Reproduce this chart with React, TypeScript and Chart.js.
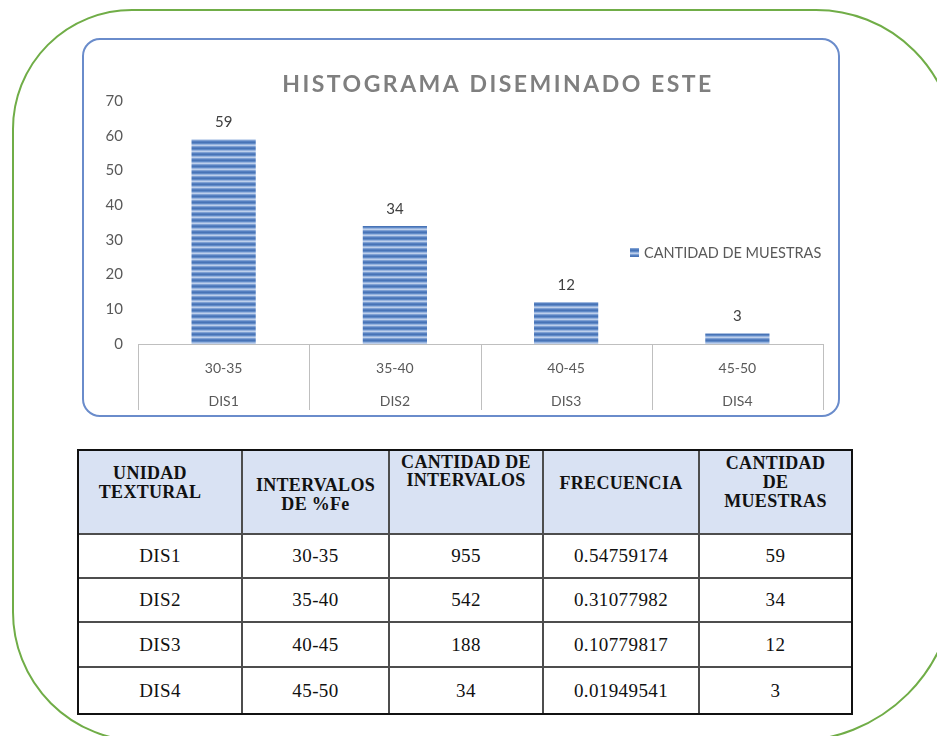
import React, { useEffect, useRef } from 'react';
import { Chart, registerables } from 'chart.js';

Chart.register(...registerables);

// ---------- data ----------
const chartTitle = 'HISTOGRAMA DISEMINADO ESTE';
const seriesName = 'CANTIDAD DE MUESTRAS';
const intervals = ['30-35', '35-40', '40-45', '45-50'];
const units = ['DIS1', 'DIS2', 'DIS3', 'DIS4'];
const sampleCounts = [59, 34, 12, 3];
const intervalCounts = [955, 542, 188, 34];
const frequencies = ['0.54759174', '0.31077982', '0.10779817', '0.01949541'];
const yMin = 0;
const yMax = 70;
const yStep = 10;
const tableHeaders = [
  ['UNIDAD', 'TEXTURAL'],
  ['INTERVALOS', 'DE %Fe'],
  ['CANTIDAD DE', 'INTERVALOS'],
  ['FRECUENCIA'],
  ['CANTIDAD', 'DE', 'MUESTRAS'],
];

// ---------- styles ----------
const FONT = 'Lato, "Open Sans", sans-serif';
const SERIF = '"Liberation Serif", "Times New Roman", serif';

function makeStripePattern(ctx: CanvasRenderingContext2D): CanvasPattern | string {
  const c = document.createElement('canvas');
  c.width = 4;
  c.height = 6;
  const p = c.getContext('2d');
  if (!p) return '#5b86c6';
  const rows = ['#4873b6', '#5f8ac7', '#98b3de', '#bccfeb', '#7fa0d3', '#5580c1'];
  rows.forEach((col, i) => {
    p.fillStyle = col;
    p.fillRect(0, i, 4, 1);
  });
  return ctx.createPattern(c, 'repeat') || '#5b86c6';
}

const titlePlugin = {
  id: 'customTitle',
  afterDraw(chart: any) {
    const { ctx } = chart;
    ctx.save();
    ctx.font = `bold 23px ${FONT}`;
    ctx.fillStyle = '#7f7f7f';
    ctx.letterSpacing = '2.5px';
    ctx.textAlign = 'center';
    ctx.textBaseline = 'middle';
    ctx.fillText(chartTitle, chart.width / 2 + 37, 45);
    ctx.letterSpacing = '0px';
    ctx.restore();
  },
};

const valueLabelPlugin = {
  id: 'valueLabels',
  afterDatasetsDraw(chart: any) {
    const { ctx } = chart;
    const meta = chart.getDatasetMeta(0);
    const data = chart.data.datasets[0].data;
    ctx.save();
    ctx.font = `15px ${FONT}`;
    ctx.fillStyle = '#404040';
    ctx.textAlign = 'center';
    ctx.textBaseline = 'middle';
    meta.data.forEach((el: any, i: number) => {
      ctx.fillText(String(data[i]), el.x, el.y - 17);
    });
    ctx.restore();
  },
};

const separatorPlugin = {
  id: 'categorySeparators',
  afterDraw(chart: any) {
    const { ctx, chartArea } = chart;
    const x = chart.scales.x;
    const n = chart.data.labels.length;
    const bottom = x.bottom - 5;
    ctx.save();
    ctx.strokeStyle = '#bfbfbf';
    ctx.lineWidth = 1;
    for (let i = 0; i <= n; i++) {
      let px: number;
      if (i === 0) px = chartArea.left;
      else if (i === n) px = chartArea.right;
      else px = (x.getPixelForValue(i - 1) + x.getPixelForValue(i)) / 2;
      px = Math.round(px) + 0.5;
      ctx.beginPath();
      ctx.moveTo(px, chartArea.bottom);
      ctx.lineTo(px, bottom);
      ctx.stroke();
    }
    ctx.restore();
  },
};

const legendPlugin = {
  id: 'customLegend',
  afterDraw(chart: any) {
    const { ctx } = chart;
    const bg = chart.data.datasets[0].backgroundColor;
    const sx = 546;
    const sy = 213;
    ctx.save();
    ctx.fillStyle = bg;
    ctx.fillRect(sx, sy - 5, 9, 9);
    ctx.font = `14.5px ${FONT}`;
    ctx.fillStyle = '#595959';
    ctx.textAlign = 'left';
    ctx.textBaseline = 'middle';
    ctx.fillText(chart.data.datasets[0].label, sx + 14, sy);
    ctx.restore();
  },
};

function HistogramChart() {
  const ref = useRef<HTMLCanvasElement | null>(null);
  useEffect(() => {
    const canvas = ref.current;
    if (!canvas) return;
    const ctx = canvas.getContext('2d');
    if (!ctx) return;
    const pattern = makeStripePattern(ctx);
    const chart = new Chart(canvas, {
      type: 'bar',
      data: {
        labels: intervals.map((iv, i) => [iv, units[i]]),
        datasets: [
          {
            label: seriesName,
            data: sampleCounts,
            backgroundColor: pattern as any,
            borderWidth: 0,
            barPercentage: 0.375,
            categoryPercentage: 1,
          },
        ],
      },
      options: {
        animation: false,
        responsive: true,
        maintainAspectRatio: false,
        layout: { padding: { top: 61, right: 15, bottom: 0, left: 0 } },
        plugins: {
          legend: { display: false },
          title: { display: false },
          tooltip: { enabled: false },
        },
        scales: {
          x: {
            type: 'category',
            grid: { display: false, drawTicks: false },
            border: { display: true, color: '#bfbfbf', width: 1 },
            ticks: {
              color: '#595959',
              font: { family: FONT, size: 14, lineHeight: '33px' } as any,
              padding: 8,
              maxRotation: 0,
              autoSkip: false,
            },
            afterFit: (scale: any) => {
              scale.height = 71;
            },
          },
          y: {
            min: yMin,
            max: yMax,
            grid: { display: false, drawTicks: false },
            border: { display: false },
            ticks: {
              stepSize: yStep,
              color: '#595959',
              font: { family: FONT, size: 15 },
              padding: 15,
            },
            afterFit: (scale: any) => {
              scale.width = 54;
            },
          },
        },
      },
      plugins: [titlePlugin, valueLabelPlugin, separatorPlugin, legendPlugin],
    });
    return () => chart.destroy();
  }, []);
  return (
    <div style={{ position: 'relative', width: 754, height: 375 }}>
      <canvas ref={ref} />
    </div>
  );
}

const colEdges = [0, 164, 311, 465, 621, 772];
const rowEdges = [0, 84, 128, 172, 217, 262];
const headerPadTop = [13, 25, 1.5, 23, 3];
const headerPadRight = [20, 0, 0, 0, 0];

function DataTable() {
  const cells: React.ReactNode[] = [];
  const nCols = colEdges.length - 1;
  const nRows = rowEdges.length - 1;
  const lineColor = '#4d4d4d';
  for (let r = 0; r < nRows; r++) {
    for (let c = 0; c < nCols; c++) {
      const isHeader = r === 0;
      const style: React.CSSProperties = {
        position: 'absolute',
        left: colEdges[c],
        top: rowEdges[r],
        width: colEdges[c + 1] - colEdges[c],
        height: rowEdges[r + 1] - rowEdges[r],
        boxSizing: 'border-box',
        borderRight: c < nCols - 1 ? `2px solid ${lineColor}` : 'none',
        borderBottom: r < nRows - 1 ? `2px solid ${lineColor}` : 'none',
        background: isHeader ? '#d9e2f3' : '#ffffff',
        textAlign: 'center',
        color: '#111111',
        fontFamily: SERIF,
      };
      let content: React.ReactNode;
      if (isHeader) {
        Object.assign(style, {
          fontWeight: 'bold',
          fontSize: 18,
          lineHeight: '18.8px',
          paddingTop: headerPadTop[c],
          paddingRight: headerPadRight[c],
          letterSpacing: '0.3px',
        });
        content = tableHeaders[c].map((t, i) => <div key={i}>{t}</div>);
      } else {
        const i = r - 1;
        const values = [units[i], intervals[i], String(intervalCounts[i]), frequencies[i], String(sampleCounts[i])];
        Object.assign(style, {
          fontSize: 19,
          letterSpacing: '0.4px',
          display: 'flex',
          alignItems: 'center',
          justifyContent: 'center',
        });
        content = values[c];
      }
      cells.push(
        <div key={`${r}-${c}`} style={style}>
          {content}
        </div>
      );
    }
  }
  return (
    <div
      style={{
        position: 'absolute',
        left: 77,
        top: 449,
        width: 776,
        height: 266,
        boxSizing: 'border-box',
        border: '2px solid #111111',
        background: '#ffffff',
      }}
    >
      {cells}
    </div>
  );
}

export default function App() {
  return (
    <div
      style={{
        position: 'fixed',
        left: 0,
        top: 0,
        width: 937,
        height: 736,
        overflow: 'hidden',
        background: '#ffffff',
      }}
    >
      <div
        style={{
          position: 'absolute',
          left: 12,
          top: 9,
          width: 944,
          height: 733,
          boxSizing: 'border-box',
          border: '2px solid #70ad47',
          borderRadius: '120px 140px 162px 130px',
        }}
      />
      <div
        style={{
          position: 'absolute',
          left: 82,
          top: 38,
          width: 758,
          height: 379,
          boxSizing: 'border-box',
          border: '2px solid #6a8ccb',
          borderRadius: 18,
          background: '#ffffff',
          overflow: 'hidden',
        }}
      >
        <HistogramChart />
      </div>
      <DataTable />
    </div>
  );
}
